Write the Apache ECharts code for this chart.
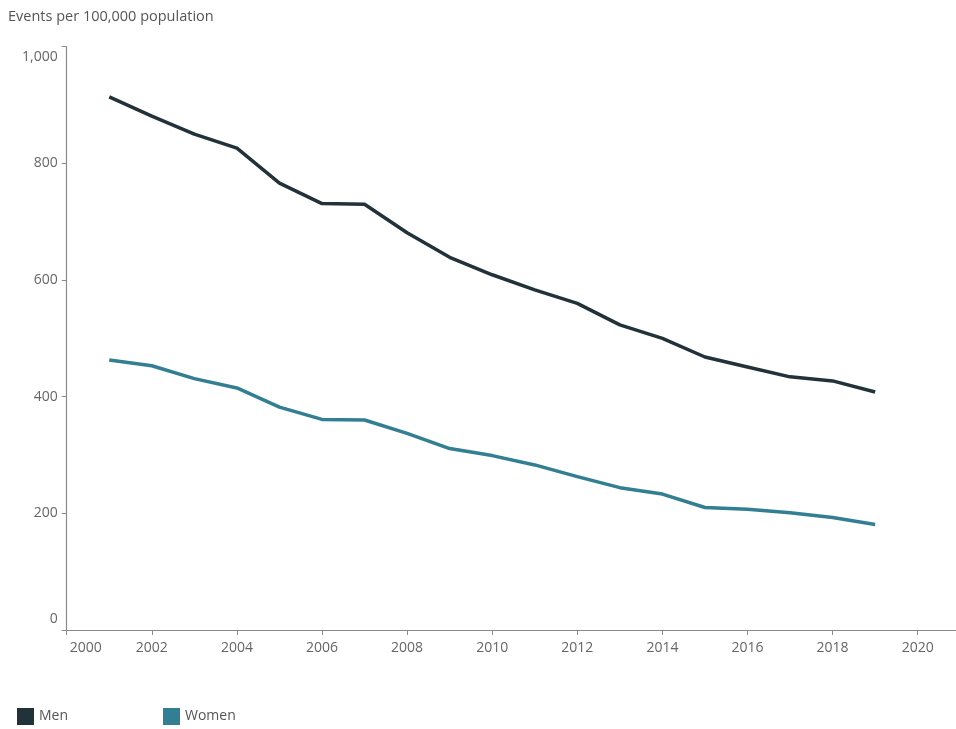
<!DOCTYPE html>
<html>
<head>
<meta charset="utf-8">
<script src="https://cdn.jsdelivr.net/npm/echarts@6/dist/echarts.min.js"></script>
<style>
html,body{margin:0;padding:0;background:#fff;}
#c{width:956px;height:729px;}
</style>
</head>
<body>
<div id="c"></div>
<script>
var years = [2001,2002,2003,2004,2005,2006,2007,2008,2009,2010,2011,2012,2013,2014,2015,2016,2017,2018,2019];
var men   = [914,881,850,826,766,731,730,681,639,609,583,560,523,500,468,451,434,427,408];
var women = [463,453,431,415,382,361,360,337,311,299,283,263,244,233,210,207,201,193,181];
var xTicks = [2000,2002,2004,2006,2008,2010,2012,2014,2016,2018,2020];
var yTitle = 'Events per 100,000 population';

var FONT = '"Open Sans", sans-serif';
var FS = 14;
var LBL = '#666';
var AX = '#8a8a8a';

function pairs(vals){ return years.map(function(y,i){ return [y, vals[i]]; }); }

var chart = echarts.init(document.getElementById('c'), null, {renderer:'canvas'});
chart.setOption({
  animation:false,
  backgroundColor:'#fff',
  title:{
    text:yTitle, left:3, top:4,
    textStyle:{fontFamily:FONT, fontSize:14.5, fontWeight:'normal', color:'#555'}
  },
  legend:[
    {data:['Men'], left:12, top:703, icon:'rect', itemWidth:17, itemHeight:17, itemGap:0,
     textStyle:{fontFamily:FONT, fontSize:FS, color:'#555'}},
    {data:['Women'], left:158, top:703, icon:'rect', itemWidth:17, itemHeight:17, itemGap:0,
     textStyle:{fontFamily:FONT, fontSize:FS, color:'#555'}}
  ],
  grid:{left:66.7, top:46.7, right:0, bottom:99, containLabel:false},
  xAxis:{
    type:'value', min:2000, max:2020.9,
    splitLine:{show:false},
    axisLine:{show:true, lineStyle:{color:AX, width:1.2}},
    axisTick:{show:true, length:5, customValues:xTicks, lineStyle:{color:AX}},
    axisLabel:{
      customValues:xTicks, margin:11,
      fontFamily:FONT, fontSize:FS, color:LBL,
      formatter:function(v){ return v===2000 ? '{f|2000}' : String(v); },
      rich:{f:{fontFamily:FONT, fontSize:FS, color:LBL, padding:[0,0,0,38]}}
    }
  },
  yAxis:{
    type:'value', min:0, max:1000, interval:200,
    splitLine:{show:false},
    axisLine:{show:true, lineStyle:{color:AX, width:1.2}},
    axisTick:{show:true, length:5, lineStyle:{color:AX}},
    axisLabel:{
      margin:9, fontFamily:FONT, fontSize:FS, color:LBL,
      formatter:function(v){
        if(v===1000) return '{t|1,000}';
        if(v===0) return '{b|0}';
        return String(v);
      },
      rich:{
        t:{fontFamily:FONT, fontSize:FS, color:LBL, padding:[20,0,0,0]},
        b:{fontFamily:FONT, fontSize:FS, color:LBL, padding:[0,0,22,0]}
      }
    }
  },
  series:[
    {name:'Men', type:'line', data:pairs(men), showSymbol:false, symbol:'none',
     color:'#22323a', lineStyle:{color:'#22323a', width:3.5}, itemStyle:{color:'#22323a'}},
    {name:'Women', type:'line', data:pairs(women), showSymbol:false, symbol:'none',
     color:'#327e92', lineStyle:{color:'#327e92', width:3.5}, itemStyle:{color:'#327e92'}}
  ]
});
</script>
</body>
</html>
